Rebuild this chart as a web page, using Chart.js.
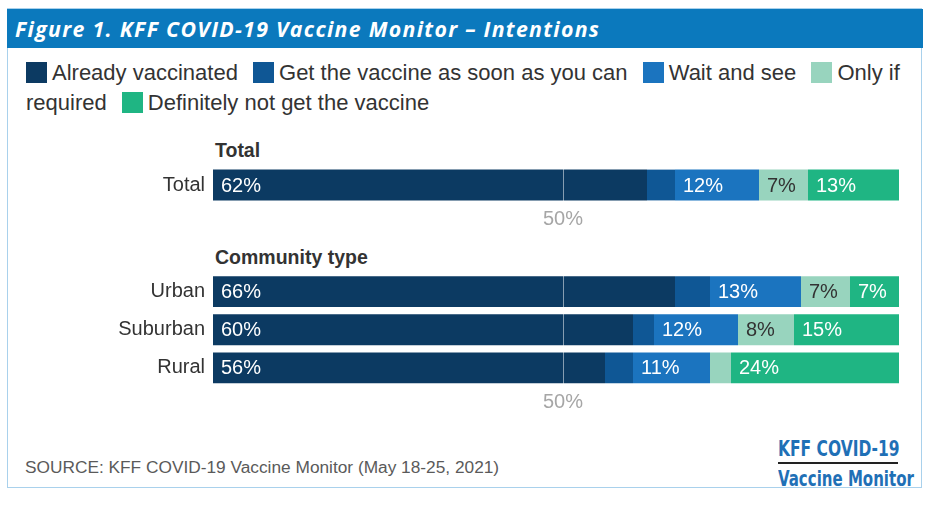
<!DOCTYPE html>
<html>
<head>
<meta charset="utf-8">
<script src="https://cdn.jsdelivr.net/npm/chart.js@4/dist/chart.umd.min.js"></script>
<style>
  body { margin: 0; width: 930px; height: 505px; background: #fff; font-family: "Liberation Sans", Arial, sans-serif; position: relative; overflow: hidden; }
  .frame { position: absolute; left: 7px; top: 8px; width: 913px; height: 478px; border: 1.5px solid #a9d1ec; }
  .header { position: absolute; left: 7px; top: 9px; width: 916px; height: 39px; background: #0b79bd; color: #fff;
    font-family: "Open Sans", sans-serif; font-weight: 700; font-style: italic; font-size: 21.3px; letter-spacing: 1.3px;
    line-height: 39px; padding-left: 8px; box-sizing: border-box; white-space: nowrap; }
  #legend { position: absolute; left: 26px; top: 58px; width: 885px; font-size: 22px; line-height: 30px; color: #333; }
  #legend .item { margin-right: 9px; }
  #legend i { display: inline-block; width: 21px; height: 21px; margin-right: 5px; vertical-align: -3px; }
  .heading { position: absolute; left: 215px; font-weight: 700; font-size: 19.5px; line-height: 19px; color: #333; }
  .box { position: absolute; left: 0; width: 930px; }
  .source { position: absolute; left: 25px; top: 457px; font-size: 17.3px; line-height: 20px; color: #5a5a5a; }
  .logo { position: absolute; left: 778px; color: #1f70b6; font-family: "DejaVu Sans Condensed", "DejaVu Sans", sans-serif; font-weight: 700;
    font-size: 21px; line-height: 24px; white-space: nowrap; transform: scaleX(0.82); transform-origin: left center; }
  .logo-line { position: absolute; left: 778px; top: 462px; width: 120px; height: 2px; background: #222; }
</style>
</head>
<body>
<div class="frame"></div>
<div class="header">Figure 1. KFF COVID-19 Vaccine Monitor – Intentions</div>
<div id="legend"></div>

<div class="heading" style="top:141px">Total</div>
<div class="box" style="top:160px;height:76px"><canvas id="totalChart"></canvas></div>

<div class="heading" style="top:248px">Community type</div>
<div class="box" style="top:266px;height:153px"><canvas id="communityChart"></canvas></div>

<div class="source">SOURCE: KFF COVID-19 Vaccine Monitor (May 18-25, 2021)</div>
<div class="logo" style="top:437px">KFF COVID-19</div>
<div class="logo-line"></div>
<div class="logo" style="top:467px;transform:scaleX(0.795)">Vaccine Monitor</div>

<script>
// data (percent of adults)
const categories = ["Total", "Urban", "Suburban", "Rural"];
const seriesNames = ["Already vaccinated", "Get the vaccine as soon as you can", "Wait and see", "Only if required", "Definitely not get the vaccine"];
const alreadyVaccinated = [62, 66, 60, 56];
const getAsSoonAsCan = [4, 5, 3, 4];
const waitAndSee = [12, 13, 12, 11];
const onlyIfRequired = [7, 7, 8, 3];
const definitelyNot = [13, 7, 15, 24];
const axisTicks = [50];

const seriesValues = [alreadyVaccinated, getAsSoonAsCan, waitAndSee, onlyIfRequired, definitelyNot];
const seriesColors = ["#0c3a62", "#0f5795", "#1b74bf", "#98d4be", "#1fb583"];
const labelColors = ["#fff", "#fff", "#fff", "#333", "#fff"];

// legend
const legend = document.getElementById("legend");
seriesNames.forEach((name, i) => {
  const item = document.createElement("span");
  item.classList.add("item");
  const sw = document.createElement("i");
  sw.style.background = seriesColors[i];
  item.appendChild(sw);
  item.appendChild(document.createTextNode(name));
  legend.appendChild(item);
  legend.appendChild(document.createTextNode(" "));
});

// value labels + the 50% marker line over the bars
const barLabels = {
  id: "barLabels",
  afterDatasetsDraw(chart) {
    const ctx = chart.ctx;
    const { top, bottom } = chart.chartArea;
    const px = Math.round(chart.scales.x.getPixelForValue(50)) + 0.5;
    ctx.save();
    ctx.strokeStyle = "rgba(255,255,255,0.5)";
    ctx.lineWidth = 1;
    ctx.beginPath();
    ctx.moveTo(px, top);
    ctx.lineTo(px, bottom);
    ctx.stroke();

    ctx.font = '20px "Liberation Sans", Arial, sans-serif';
    ctx.textBaseline = "middle";
    ctx.textAlign = "left";
    chart.data.datasets.forEach((ds, i) => {
      chart.getDatasetMeta(i).data.forEach((bar, j) => {
        const v = ds.data[j];
        if (v < 6) return;
        ctx.fillStyle = labelColors[i];
        ctx.fillText(v + "%", bar.base + 8, bar.y + 1);
      });
    });
    ctx.restore();
  }
};

function makeChart(id, from, to, padTop) {
  return new Chart(document.getElementById(id), {
    type: "bar",
    data: {
      labels: categories.slice(from, to),
      datasets: seriesNames.map((name, i) => ({
        label: name,
        data: seriesValues[i].slice(from, to),
        backgroundColor: seriesColors[i],
        borderWidth: 0,
        categoryPercentage: 1,
        barPercentage: 0.81,
      })),
    },
    options: {
      indexAxis: "y",
      responsive: true,
      maintainAspectRatio: false,
      animation: false,
      layout: { padding: { top: padTop, right: 17, bottom: 0, left: 0 } },
      plugins: { legend: { display: false }, tooltip: { enabled: false } },
      scales: {
        x: {
          stacked: true,
          min: 0,
          max: 100,
          afterBuildTicks: (s) => { s.ticks = axisTicks.map((v) => ({ value: v })); },
          afterFit: (s) => { s.height = 32; s.paddingLeft = 0; s.paddingRight = 0; },
          grid: { display: false, drawTicks: false },
          border: { display: false },
          ticks: {
            padding: 3,
            color: "#a6a6a6",
            font: { family: '"Liberation Sans", Arial, sans-serif', size: 20 },
            callback: (v) => v + "%",
          },
        },
        y: {
          stacked: true,
          afterFit: (s) => { s.width = 213; s.paddingTop = 0; s.paddingBottom = 0; },
          grid: { display: false, drawTicks: false },
          border: { display: false },
          ticks: {
            padding: 8,
            color: "#333",
            font: { family: '"Liberation Sans", Arial, sans-serif', size: 20 },
          },
        },
      },
    },
    plugins: [barLabels],
  });
}

makeChart("totalChart", 0, 1, 6);
makeChart("communityChart", 1, 4, 6.5);
</script>
</body>
</html>
